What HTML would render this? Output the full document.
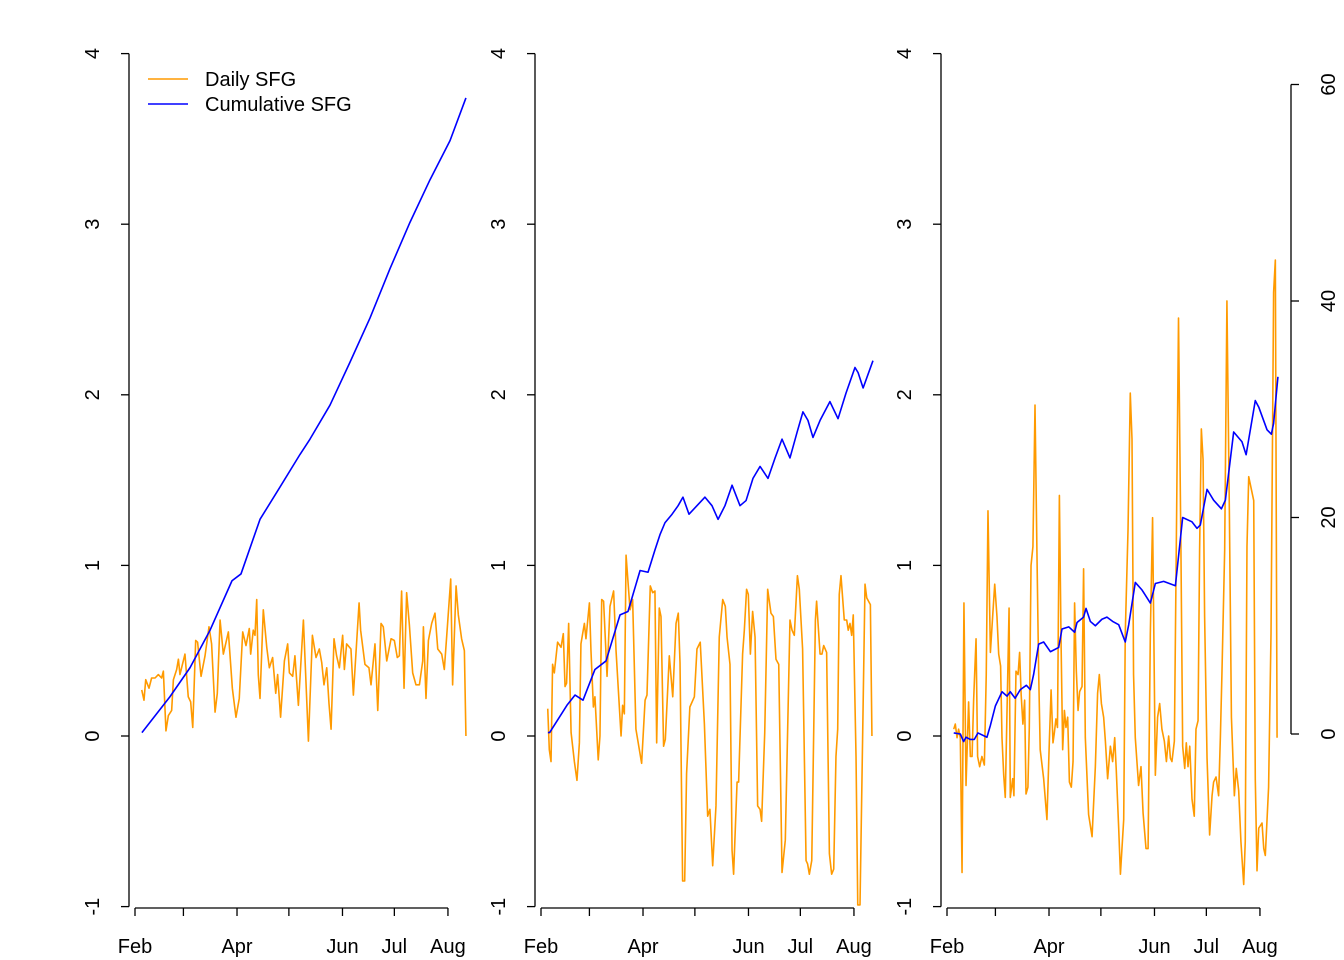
<!DOCTYPE html>
<html><head><meta charset="utf-8"><style>
html,body{margin:0;padding:0;background:#fff;}
svg{display:block;font-family:"Liberation Sans",Arial,sans-serif;}
</style></head><body>
<svg id="chart" width="1344" height="960" viewBox="0 0 1344 960"></svg>
<script>
// Axis tick data
const monthLabels = ["Feb","","Apr","","Jun","Jul","Aug"];
const monthDays = [0,28,59,89,120,150,181];
const yTicks = [-1,0,1,2,3,4];
const rightTicks = [0,20,40,60];

// Panel 1
const p1DailyDays = [3.9,5.2,6.2,8.1,9.6,11.6,13.5,15.4,16.4,17.9,19.3,21.2,22.2,24.1,25.1,26.0,28.9,30.8,32.2,33.4,35.1,36.2,38.2,40.5,42.8,44.3,46.3,47.6,49.2,51.1,54.0,56.3,58.4,60.3,62.3,64.2,66.1,66.9,68.4,69.4,70.4,71.3,72.3,74.2,76.2,77.7,79.6,81.4,82.5,84.2,86.4,88.3,89.3,91.2,92.5,94.5,97.4,100.3,102.6,104.7,106.6,108.0,109.3,110.9,112.2,113.4,115.1,116.6,118.2,120.1,121.1,122.4,124.9,126.3,129.6,130.5,133.0,135.3,136.5,138.8,140.4,142.3,143.6,145.6,148.1,150.0,151.7,152.9,154.2,155.6,157.1,158.7,160.6,162.5,164.5,166.4,166.8,168.3,169.7,171.6,173.5,175.1,177.4,178.9,180.8,182.6,183.7,185.7,187.0,188.9,190.5,191.4];
const p1Daily = [0.27,0.21,0.33,0.28,0.34,0.34,0.36,0.34,0.38,0.03,0.12,0.15,0.33,0.39,0.45,0.36,0.48,0.23,0.20,0.05,0.56,0.55,0.35,0.47,0.64,0.54,0.14,0.25,0.68,0.48,0.61,0.28,0.11,0.22,0.61,0.53,0.63,0.48,0.62,0.59,0.80,0.36,0.22,0.74,0.52,0.40,0.46,0.25,0.36,0.11,0.44,0.54,0.37,0.35,0.47,0.18,0.68,-0.03,0.59,0.46,0.51,0.43,0.30,0.40,0.19,0.04,0.57,0.47,0.40,0.59,0.39,0.54,0.51,0.24,0.78,0.62,0.42,0.40,0.30,0.54,0.15,0.66,0.64,0.44,0.57,0.56,0.46,0.47,0.85,0.28,0.84,0.65,0.37,0.30,0.30,0.44,0.64,0.22,0.56,0.66,0.72,0.51,0.48,0.39,0.66,0.92,0.30,0.88,0.71,0.57,0.50,0.00];
const p1CumDays = [4,20.2,31.8,43.4,56.1,61.3,72.3,83.9,95.4,101.2,112.8,124.3,135.9,147.5,159,170.6,182.2,191.4];
const p1Cum = [0.02,0.23,0.40,0.62,0.91,0.95,1.27,1.46,1.65,1.74,1.94,2.19,2.45,2.74,3.01,3.26,3.49,3.74];

// Panel 2
const p2DailyDays = [3.9,4.8,5.8,6.7,7.7,9.6,11.6,12.9,13.9,14.8,16.0,17.4,19.3,20.8,22.2,23.1,25.1,26.0,28.0,28.9,30.3,31.2,33.1,34.1,35.1,36.2,38.2,39.9,42.0,43.4,46.3,47.2,48.2,49.2,51.5,53.0,54.9,58.2,60.2,61.3,63.2,64.6,65.9,66.9,68.4,69.4,70.9,71.9,74.2,76.2,78.1,79.4,80.4,81.9,83.1,84.2,86.1,88.7,90.2,92.1,94.5,96.4,97.7,99.3,101.2,103.1,105.1,106.6,107.6,109.3,110.5,111.4,113.4,114.3,116.6,117.6,118.9,119.9,121.1,122.4,123.8,125.3,126.7,127.6,129.4,131.1,133.0,134.4,135.9,137.5,139.4,141.3,144.0,145.2,146.5,148.3,149.4,151.3,153.3,154.2,155.2,156.6,158.7,159.4,161.4,162.5,163.5,165.2,166.8,168.1,169.3,170.6,171.6,172.5,173.5,175.4,176.8,177.7,178.7,179.7,180.6,182.2,183.2,184.5,186.0,187.4,188.4,190.5,191.4];
const p2Daily = [0.16,-0.08,-0.15,0.42,0.37,0.55,0.52,0.60,0.29,0.31,0.66,0.02,-0.15,-0.26,-0.04,0.54,0.66,0.57,0.78,0.50,0.17,0.23,-0.14,0.00,0.80,0.79,0.35,0.76,0.85,0.50,0.00,0.18,0.13,1.06,0.74,0.80,0.04,-0.16,0.21,0.24,0.88,0.84,0.85,-0.04,0.75,0.70,-0.06,-0.02,0.47,0.23,0.66,0.72,0.43,-0.85,-0.85,-0.22,0.17,0.23,0.51,0.55,0.07,-0.47,-0.43,-0.76,-0.41,0.58,0.80,0.76,0.58,0.42,-0.67,-0.81,-0.27,-0.27,0.48,0.62,0.86,0.83,0.48,0.73,0.58,-0.41,-0.43,-0.50,0.02,0.86,0.72,0.70,0.45,0.42,-0.80,-0.61,0.68,0.62,0.59,0.94,0.86,0.51,-0.73,-0.75,-0.81,-0.73,0.68,0.79,0.48,0.48,0.53,0.49,-0.69,-0.81,-0.78,-0.12,0.04,0.83,0.94,0.68,0.68,0.62,0.66,0.59,0.71,-0.12,-0.99,-0.99,-0.02,0.89,0.81,0.77,0.00];
const p2CumDays = [4,5,15,19.7,24.3,31.2,37.6,45.7,50.3,57.3,61.9,65.9,68.8,71.7,75.8,79.3,82.1,85.6,90.2,94.8,98.9,102.4,106.4,110.5,115.1,118.6,122.6,126.7,131.3,135.4,139.4,144,148.1,151.5,154.4,157.3,161.4,167.1,171.8,176.4,181.6,183.4,186.3,192];
const p2Cum = [0.02,0.02,0.18,0.24,0.21,0.39,0.44,0.71,0.73,0.97,0.96,1.09,1.18,1.25,1.30,1.35,1.40,1.30,1.35,1.40,1.35,1.27,1.35,1.47,1.35,1.38,1.51,1.58,1.51,1.63,1.74,1.63,1.78,1.90,1.85,1.75,1.85,1.96,1.86,2.01,2.16,2.13,2.04,2.20];

// Panel 3
const p3DailyDays = [3.9,4.8,5.8,6.7,7.7,8.7,9.8,11.0,12.5,13.5,14.5,15.4,16.8,17.7,18.9,20.2,21.6,22.7,23.7,25.1,26.4,27.6,28.9,29.9,31.0,31.8,32.8,33.7,34.9,35.9,36.6,38.0,38.7,39.9,41.1,42.0,42.9,43.9,44.9,45.7,46.8,47.6,48.6,49.7,50.9,52.0,53.0,53.9,55.9,57.8,59.2,60.2,61.3,62.1,63.0,63.9,65.0,66.0,66.9,67.9,68.8,69.8,70.8,71.9,72.9,73.8,74.8,75.8,76.7,78.1,79.0,80.0,81.9,83.9,85.8,87.1,88.1,89.3,90.6,91.6,92.9,94.5,95.8,97.0,97.9,99.3,100.3,102.2,103.1,104.7,106.0,107.0,107.9,108.9,110.8,112.2,113.4,115.1,116.3,117.6,118.9,120.5,121.8,123.0,124.3,125.7,126.9,128.2,129.2,130.1,131.5,132.6,133.9,135.3,136.3,137.5,138.4,139.4,140.4,141.7,143.0,144.0,145.2,146.1,147.1,148.1,149.0,150.4,151.9,153.3,154.2,155.6,157.1,158.1,159.0,160.6,161.9,163.3,164.5,166.2,167.3,168.7,170.0,171.6,172.5,173.5,174.5,177.4,178.3,179.3,180.3,182.2,183.2,184.1,185.1,186.0,187.4,188.9,189.9,190.9];
const p3Daily = [0.04,0.07,-0.01,0.04,-0.01,-0.80,0.78,-0.29,0.20,-0.12,-0.12,0.21,0.57,-0.12,-0.18,-0.12,-0.17,0.36,1.32,0.49,0.70,0.89,0.70,0.48,0.41,-0.01,-0.23,-0.36,0.24,0.75,-0.36,-0.25,-0.35,0.38,0.36,0.49,0.24,0.07,0.21,-0.34,-0.30,0.05,1.00,1.11,1.94,1.09,0.38,-0.08,-0.25,-0.49,-0.03,0.27,-0.04,0.02,0.10,0.05,1.41,0.53,-0.08,0.15,0.05,0.11,-0.27,-0.30,-0.15,0.78,0.38,0.15,0.26,0.29,0.98,-0.01,-0.46,-0.59,-0.18,0.25,0.36,0.19,0.11,-0.03,-0.25,-0.06,-0.15,-0.01,-0.20,-0.54,-0.81,-0.49,0.60,1.21,2.01,1.74,0.36,-0.01,-0.29,-0.18,-0.45,-0.66,-0.66,0.60,1.28,-0.23,0.11,0.19,0.04,-0.03,-0.15,0.00,-0.13,-0.15,-0.03,1.09,2.45,1.09,-0.06,-0.19,-0.04,-0.18,-0.06,-0.37,-0.47,0.04,0.09,1.09,1.80,1.62,0.70,-0.13,-0.58,-0.35,-0.27,-0.24,-0.35,-0.01,0.36,1.09,2.55,1.33,0.11,-0.35,-0.19,-0.32,-0.62,-0.87,-0.62,1.11,1.52,1.38,-0.25,-0.79,-0.54,-0.51,-0.66,-0.70,-0.49,-0.30,0.60,2.60,2.79,-0.01];
const p3CumDays = [3.9,7.7,9.6,11.0,13.5,15.8,17.9,23.1,25.1,28.0,31.8,34.7,36.6,39.4,42.4,45.9,48.2,50.1,53.0,55.9,59.8,64.6,66.5,70.4,73.8,75.2,79.0,80.4,82.9,85.8,89.6,92.5,95.8,99.3,103.1,105.1,108.9,112.8,117.6,120.5,125.3,132.1,136.3,141.7,144.6,146.5,150.4,154.2,158.7,161.0,165.8,170.6,173.0,178.3,180.3,185.1,187.6,188.9,191.4];
const p3Cum = [0.1,0,-0.7,-0.3,-0.5,-0.5,0.1,-0.3,0.8,2.6,3.9,3.5,3.9,3.3,4.1,4.5,4.1,5.5,8.3,8.5,7.6,8.0,9.7,9.9,9.4,10.3,10.8,11.6,10.4,10.0,10.6,10.8,10.4,10.1,8.5,10.1,14.0,13.3,12.1,13.9,14.1,13.7,20.0,19.6,19.0,19.3,22.6,21.6,20.8,21.6,27.9,27.0,25.8,30.8,30.2,28.1,27.7,28.7,33.0];

const NS = "http://www.w3.org/2000/svg";
const svg = document.getElementById('chart');
function mk(tag, attrs, parent){
  const e = document.createElementNS(NS, tag);
  for (const k in attrs) e.setAttribute(k, attrs[k]);
  (parent||svg).appendChild(e);
  return e;
}
const Y0 = 736, YPU = 170.6, DPX = 1.729;
const yScale = v => Y0 - v*YPU;
const rScale = v => 734 - v*10.825;
const FS = 20;

function panel(idx, xOff, dDays, dVals, cDays, cVals, cumScale){
  const g = mk('g', {});
  
  
  const xs = d => xOff + 135 + d*DPX;
  const ya = mk('g', {}, g);
  
  
  const ax = xOff + 129;
  mk('line', {x1:ax, y1:yScale(4), x2:ax, y2:yScale(-1), stroke:'#000','stroke-width':1.3}, ya);
  yTicks.forEach(t => {
    const y = yScale(t);
    mk('line', {x1:ax-8, y1:y, x2:ax, y2:y, stroke:'#000','stroke-width':1.3}, ya);
    const tx = mk('text', {x:0, y:0, 'font-size':FS, 'text-anchor':'middle', transform:`translate(${ax-30},${y}) rotate(-90)`}, ya);
    tx.textContent = t;
    
    
  });
  const xa = mk('g', {}, g);
  
  
  mk('line', {x1:xs(0), y1:908, x2:xs(181), y2:908, stroke:'#000','stroke-width':1.3}, xa);
  monthDays.forEach((d,i) => {
    mk('line', {x1:xs(d), y1:908, x2:xs(d), y2:916, stroke:'#000','stroke-width':1.3}, xa);
    if (monthLabels[i]) {
      const tx = mk('text', {x:xs(d), y:953, 'font-size':FS, 'text-anchor':'middle'}, xa);
      tx.textContent = monthLabels[i];
      
      
    }
  });
  const dp = mk('polyline', {points: dDays.map((d,i)=>xs(d)+','+yScale(dVals[i])).join(' '), fill:'none', stroke:'#FF9A00', 'stroke-width':1.6, 'stroke-linejoin':'round'}, g);
  
  
  const cs = cumScale || yScale;
  const cp = mk('polyline', {points: cDays.map((d,i)=>xs(d)+','+cs(cVals[i])).join(' '), fill:'none', stroke:'#0000FF', 'stroke-width':1.6, 'stroke-linejoin':'round'}, g);
  
  
}
panel(1, 0, p1DailyDays, p1Daily, p1CumDays, p1Cum);
panel(2, 406, p2DailyDays, p2Daily, p2CumDays, p2Cum);
panel(3, 812, p3DailyDays, p3Daily, p3CumDays, p3Cum, rScale);

const ra = mk('g', {});


mk('line', {x1:1291, y1:rScale(60), x2:1291, y2:rScale(0), stroke:'#000','stroke-width':1.3}, ra);
rightTicks.forEach(t => {
  const y = rScale(t);
  mk('line', {x1:1291, y1:y, x2:1299, y2:y, stroke:'#000','stroke-width':1.3}, ra);
  const tx = mk('text', {x:0, y:0, 'font-size':FS, 'text-anchor':'middle', transform:`translate(${1335},${y}) rotate(-90)`}, ra);
  tx.textContent = t;
  
  
});

const lg = mk('g', {});


mk('line', {x1:148, y1:79, x2:188, y2:79, stroke:'#FF9A00','stroke-width':1.6}, lg);
mk('line', {x1:148, y1:104, x2:188, y2:104, stroke:'#0000FF','stroke-width':1.6}, lg);
const l1 = mk('text', {x:205, y:86, 'font-size':FS}, lg);
l1.textContent = 'Daily SFG';


const l2 = mk('text', {x:205, y:111, 'font-size':FS}, lg);
l2.textContent = 'Cumulative SFG';


</script>
</body></html>
